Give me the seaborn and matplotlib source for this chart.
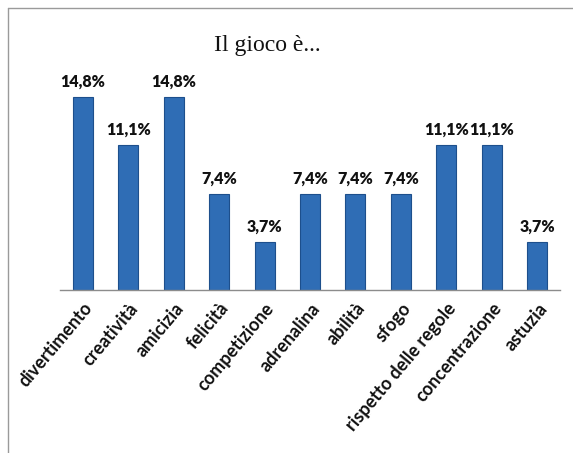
import matplotlib
matplotlib.use("Agg")
import matplotlib.pyplot as plt
import seaborn as sns
import pandas as pd
from matplotlib.lines import Line2D

# Data
categorie = ['divertimento', 'creatività', 'amicizia', 'felicità', 'competizione',
             'adrenalina', 'abilità', 'sfogo', 'rispetto delle regole',
             'concentrazione', 'astuzia']
percentuali = [14.8, 11.1, 14.8, 7.4, 3.7, 7.4, 7.4, 7.4, 11.1, 11.1, 3.7]
etichette = ['14,8%', '11,1%', '14,8%', '7,4%', '3,7%', '7,4%', '7,4%', '7,4%',
             '11,1%', '11,1%', '3,7%']

df = pd.DataFrame({'cat': categorie, 'val': percentuali})

sns.set_style('white')
plt.rcParams['font.family'] = ['Lato', 'DejaVu Sans']

W, H = 573, 453
fig = plt.figure(figsize=(W / 100, H / 100), dpi=100)
ax = fig.add_axes([60 / W, 1 - 290 / H, 500 / W, (290 - 81.4) / H])

sns.barplot(data=df, x='cat', y='val', color='#2f6db5', width=0.44,
            edgecolor='#1d4f8c', linewidth=0.8, saturation=1, ax=ax)
ax.set_ylim(0, 16)
ax.set_xlim(-0.5, len(categorie) - 0.5)

for i, (v, t) in enumerate(zip(percentuali, etichette)):
    ax.text(i, v + 0.55, t, ha='center', va='bottom', fontsize=11.5,
            fontweight='heavy', color='#111111')

ax.set_xlabel('')
ax.set_ylabel('')
ax.set_yticks([])
ax.tick_params(axis='x', length=0, pad=7)
ax.set_xticks(range(len(categorie)))
ax.set_xticklabels(categorie, rotation=50, ha='right', rotation_mode='anchor',
                   fontsize=13, fontweight='bold', color='#111111')
for s in ['top', 'right', 'left']:
    ax.spines[s].set_visible(False)
ax.spines['bottom'].set_color('#8c8c8c')
ax.spines['bottom'].set_linewidth(1.0)

fig.text(267 / W, 1 - 45 / H, 'Il gioco è...', ha='center', va='center',
         fontsize=17, family='Liberation Serif', color='#111111')

# outer frame (top and left edges)
fig.add_artist(Line2D([8 / W, 8 / W], [0, 1 - 8 / H], transform=fig.transFigure,
                      color='#9a9a9a', lw=1))
fig.add_artist(Line2D([8 / W, 1], [1 - 8 / H, 1 - 8 / H], transform=fig.transFigure,
                      color='#9a9a9a', lw=1))

fig.savefig('out.png', dpi=100)
